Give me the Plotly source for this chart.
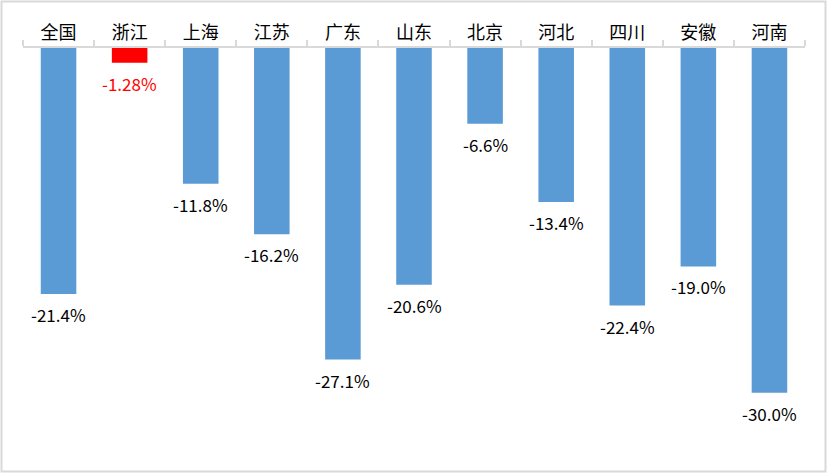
import plotly.graph_objects as go

categories = ["全国", "浙江", "上海", "江苏", "广东", "山东", "北京", "河北", "四川", "安徽", "河南"]
values = [-21.4, -1.28, -11.8, -16.2, -27.1, -20.6, -6.6, -13.4, -22.4, -19.0, -30.0]
value_labels = ["-21.4%", "-1.28%", "-11.8%", "-16.2%", "-27.1%", "-20.6%", "-6.6%", "-13.4%", "-22.4%", "-19.0%", "-30.0%"]
highlight = "浙江"

W, H = 828, 474
ML, MR, MT, MB = 23, 23, 48, 34
YMIN = -34.1

blue = "#5B9BD5"
red = "#FF0000"
colors = [red if c == highlight else blue for c in categories]
label_colors = [red if c == highlight else "#000000" for c in categories]

fig = go.Figure()
fig.add_trace(go.Bar(
    x=categories, y=values, marker=dict(color=colors, line=dict(width=0)),
    width=0.5, hoverinfo="skip",
))

for c, v, t, col in zip(categories, values, value_labels, label_colors):
    fig.add_annotation(
        x=c, y=v, text=t, showarrow=False, xanchor="center", yanchor="top",
        yshift=-6, font=dict(size=17, color=col, family="Noto Sans CJK SC"),
    )

pw = W - ML - MR
ph = H - MT - MB
fig.add_shape(
    type="rect", xref="paper", yref="paper",
    x0=(1.5 - ML) / pw, x1=(825.5 - ML) / pw,
    y0=(H - 471.5 - MB) / ph, y1=(H - 1.5 - MB) / ph,
    line=dict(color="#D9D9D9", width=2), layer="below",
)

fig.update_layout(
    width=W, height=H,
    margin=dict(l=ML, r=MR, t=MT, b=MB, autoexpand=False),
    paper_bgcolor="white", plot_bgcolor="white",
    showlegend=False,
    font=dict(family="Noto Sans CJK SC", size=18, color="#000000"),
    xaxis=dict(
        side="top", type="category", showgrid=False,
        showline=True, linecolor="#D9D9D9", linewidth=1.5,
        ticks="outside", ticklen=6, tickcolor="#D9D9D9", tickwidth=1.5,
        tickson="boundaries", tickfont=dict(size=18, color="#000000"),
        anchor="y",
    ),
    yaxis=dict(
        range=[YMIN, 0], visible=False, showgrid=False, zeroline=False,
    ),
)

fig.write_html(
    "out.html",
    config={"displayModeBar": False},
    post_script="document.body.style.margin='0';document.body.style.padding='0';",
)
